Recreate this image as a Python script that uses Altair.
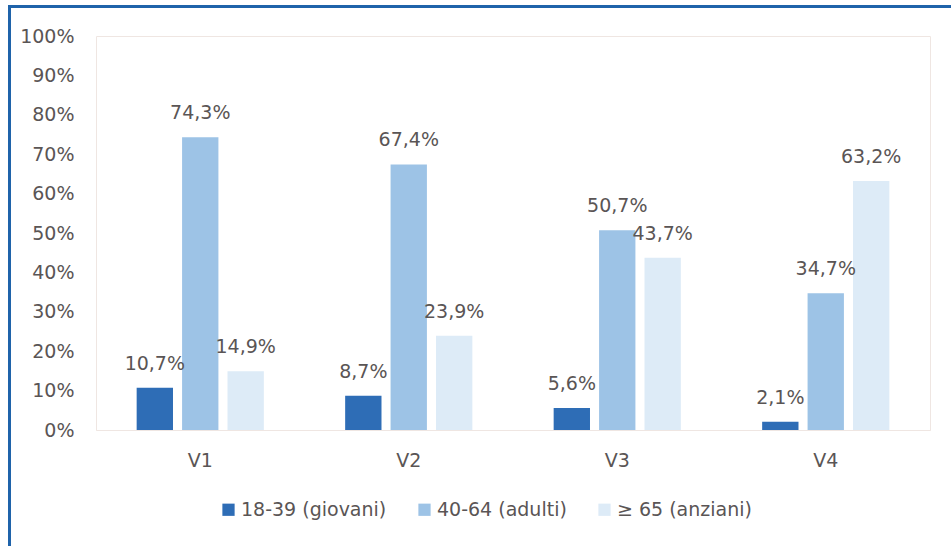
import altair as alt
import pandas as pd

visits = ["V1", "V2", "V3", "V4"]
groups = ["18-39 (giovani)", "40-64 (adulti)", "≥ 65 (anziani)"]
giovani = [10.7, 8.7, 5.6, 2.1]
adulti = [74.3, 67.4, 50.7, 34.7]
anziani = [14.9, 23.9, 43.7, 63.2]
colors = ["#2E6DB6", "#9DC3E6", "#DDEBF7"]

rows = []
for i, v in enumerate(visits):
    for g, vals in zip(groups, [giovani, adulti, anziani]):
        rows.append({"visit": v, "group": g, "value": vals[i],
                     "label": f"{vals[i]:.1f}".replace(".", ",") + "%"})
df = pd.DataFrame(rows)

FONT = "DejaVu Sans"
GRAY = "#5a5555"
FS = 19
W, H = 834, 394

x = alt.X("visit:N", sort=visits, title=None,
          scale=alt.Scale(paddingInner=0.39, paddingOuter=0.195),
          axis=alt.Axis(labelAngle=0, labelFontSize=FS, labelColor=GRAY, labelFont=FONT,
                        labelPadding=21, ticks=False, domainColor="#efe6e2", domainWidth=1))
xo = alt.XOffset("group:N", sort=groups, scale=alt.Scale(paddingInner=0.2, paddingOuter=0))
y = alt.Y("value:Q", title=None,
          scale=alt.Scale(domain=[0, 100], nice=False),
          axis=alt.Axis(values=list(range(0, 101, 10)), labelExpr="datum.value + '%'",
                        labelFontSize=FS, labelColor=GRAY, labelFont=FONT, labelPadding=22,
                        ticks=False, domain=False, grid=False))

base = alt.Chart(df)
bars = base.mark_bar().encode(
    x=x, xOffset=xo, y=y,
    color=alt.Color("group:N", sort=groups, scale=alt.Scale(domain=groups, range=colors),
                    legend=alt.Legend(title=None, orient="none", direction="horizontal",
                                      legendX=123, legendY=464, symbolType="square",
                                      symbolSize=150, symbolStrokeWidth=0,
                                      labelFontSize=FS, labelColor=GRAY, labelFont=FONT,
                                      labelOffset=3, columnPadding=28)),
)
text = base.mark_text(baseline="alphabetic", dy=-18, fontSize=FS, color=GRAY, font=FONT).encode(
    x=x, xOffset=xo, y=y, text="label:N")

frame = pd.DataFrame({"a": [0]})
top = alt.Chart(frame).mark_rule(color="#1F63AA", strokeWidth=3).encode(
    x=alt.value(-86.5), x2=alt.value(860), y=alt.value(-29.5))
left = alt.Chart(frame).mark_rule(color="#1F63AA", strokeWidth=3).encode(
    x=alt.value(-86.5), y=alt.value(-31), y2=alt.value(520))

chart = alt.layer(bars, text, top, left).properties(
    width=W, height=H,
    autosize=alt.AutoSizeParams(type="none"),
    padding={"left": 96, "top": 36, "right": 21, "bottom": 116},
    background="white",
).configure_view(stroke="#efe6e2", strokeWidth=1).configure_legend(
    labelLimit=300)

chart.save("out.html", embed_options={"renderer": "svg", "actions": False})
